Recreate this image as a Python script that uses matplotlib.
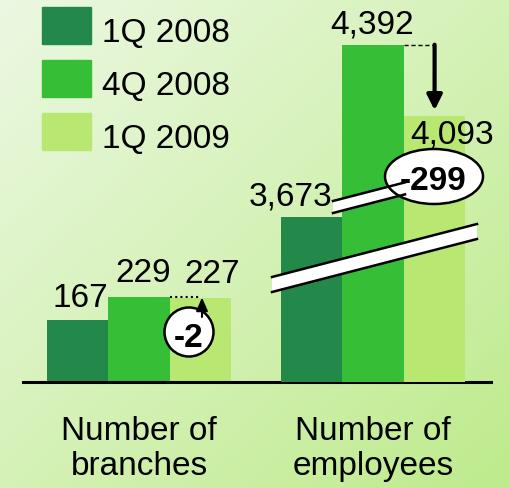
import numpy as np
import matplotlib.pyplot as plt
from matplotlib.patches import Rectangle, Ellipse, Polygon

plt.rcParams['font.family'] = ['Liberation Sans', 'DejaVu Sans']

# data
groups = ['Number of\nbranches', 'Number of\nemployees']
periods = ['1Q 2008', '4Q 2008', '1Q 2009']
branches = [167, 229, 227]
employees = [3673, 4392, 4093]
colors = ['#23894a', '#37be37', '#b8e872']

W, H = 510, 489
fig = plt.figure(figsize=(W / 100, H / 100), dpi=100)

# background gradient (light top-left -> greener bottom-right)
bg = fig.add_axes([0, 0, 1, 1], zorder=0)
yy, xx = np.mgrid[0:1:200j, 0:1:200j]
t = (xx + yy) / 2
c0 = np.array([236, 248, 226]) / 255
c1 = np.array([190, 235, 140]) / 255
img = c0[None, None, :] * (1 - t[..., None]) + c1[None, None, :] * t[..., None]
bg.imshow(img, extent=[0, 1, 0, 1], aspect='auto', origin='upper')
bg.axis('off')

# main axes: baseline at y=382.7px, branches scale from 0, employees scale broken
base_px = 382.7
ax = fig.add_axes([0, (H - base_px) / H, 1, base_px / H], zorder=1)
ax.patch.set_alpha(0)
k_b = 0.3699                      # px per branch
ax.set_xlim(-0.594, 1.585)
ax.set_ylim(0, base_px / k_b)
ax.axis('off')

ax2 = ax.twinx()
ax2.set_zorder(2)
ax2.patch.set_alpha(0)
k_e = 0.23922                     # px per employee
e_lo = 3673 - 165.0 / k_e
ax2.set_ylim(e_lo, e_lo + base_px / k_e)
ax2.axis('off')

w = 0.2628
xs = np.arange(3) - 1
for i in range(3):
    ax.bar(xs[i] * w, branches[i], width=w, color=colors[i], zorder=2)
    ax2.bar(1 + xs[i] * w, employees[i] - e_lo, bottom=e_lo, width=w,
            color=colors[i], zorder=2)
ax.plot([-0.496, 1.504], [0, 0], color='black', lw=2.2, clip_on=False, zorder=3)

fs = 24
px = 0.72  # pixels -> points
b_off = [(2.5, 14), (4, 16), (11.5, 16)]
for i in range(3):
    dx, dy = b_off[i]
    ax.annotate(f'{branches[i]:,}', (xs[i] * w, branches[i]),
                xytext=(dx * px, dy * px), textcoords='offset points',
                ha='center', va='baseline', fontsize=fs, zorder=4)
e_off = [(-21, 12.7), (-1, 12.7), (17.5, -26)]
for i in range(3):
    dx, dy = e_off[i]
    ax2.annotate(f'{employees[i]:,}', (1 + xs[i] * w, employees[i]),
                 xytext=(dx * px, dy * px), textcoords='offset points',
                 ha='center', va='baseline', fontsize=fs, zorder=4)

for j, g in enumerate(groups):
    ax.annotate(g, (j, 0), xytext=(0, -33 * px), textcoords='offset points',
                ha='center', va='top', fontsize=fs, linespacing=1.17)

# change markers: dashed reference line and arrow
ax2.plot([1 + 0.5 * w, 1 + w], [employees[1], employees[1]], color='black',
         lw=1, ls=(0, (3, 2)), zorder=3)
ax2.annotate('', xy=(1 + w, employees[2] + 25), xytext=(1 + w, employees[1]),
             arrowprops=dict(arrowstyle='-|>,head_length=0.9,head_width=0.45',
                             color='black', lw=3, shrinkA=0, shrinkB=0), zorder=5)
ax.plot([0.5 * w, w], [branches[1], branches[1]], color='black',
        lw=1.5, ls=(0, (1, 1.5)), zorder=3)

# overlay in pixel coordinates for decorations
ov = fig.add_axes([0, 0, 1, 1], zorder=3)
ov.set_xlim(0, W)
ov.set_ylim(H, 0)
ov.axis('off')
ov.patch.set_alpha(0)

# legend
for i, p in enumerate(periods):
    y0 = 8 + 53 * i
    ov.add_patch(Rectangle((42, y0), 49, 37, color=colors[i]))
    ov.text(102, y0 + 34, p, fontsize=fs, va='baseline', ha='left')

# axis break bands
slope = 0.2585
def band(x0, x1, ytop0, th):
    y0 = ytop0
    y1 = ytop0 - slope * (x1 - x0)
    ov.add_patch(Polygon([(x0, y0), (x1, y1), (x1, y1 + th), (x0, y0 + th)],
                         closed=True, fc='white', ec='none'))
    ov.plot([x0, x1], [y0, y1], color='black', lw=1.8)
    ov.plot([x0, x1], [y0 + th, y1 + th], color='black', lw=1.8)

band(272, 477, 278, 15)
band(333, 405, 202, 12)

# small arrow for branches change
ov.annotate('', xy=(202, 298.5), xytext=(202, 318),
            arrowprops=dict(arrowstyle='-|>,head_length=0.8,head_width=0.35',
                            color='black', lw=1.5, shrinkA=0, shrinkB=0))

# badges
ov.add_patch(Ellipse((434, 177.5), 98, 55, fc='white', ec='black', lw=1.8))
ov.text(433.5, 190, f'{employees[2] - employees[1]:,}', fontsize=fs,
        fontweight='bold', ha='center', va='baseline')
ov.add_patch(Ellipse((189, 333), 49, 49, fc='white', ec='black', lw=1.8))
ov.text(188.5, 347, f'{branches[2] - branches[1]}', fontsize=fs,
        fontweight='bold', ha='center', va='baseline')

fig.savefig('out.png', dpi=100)
